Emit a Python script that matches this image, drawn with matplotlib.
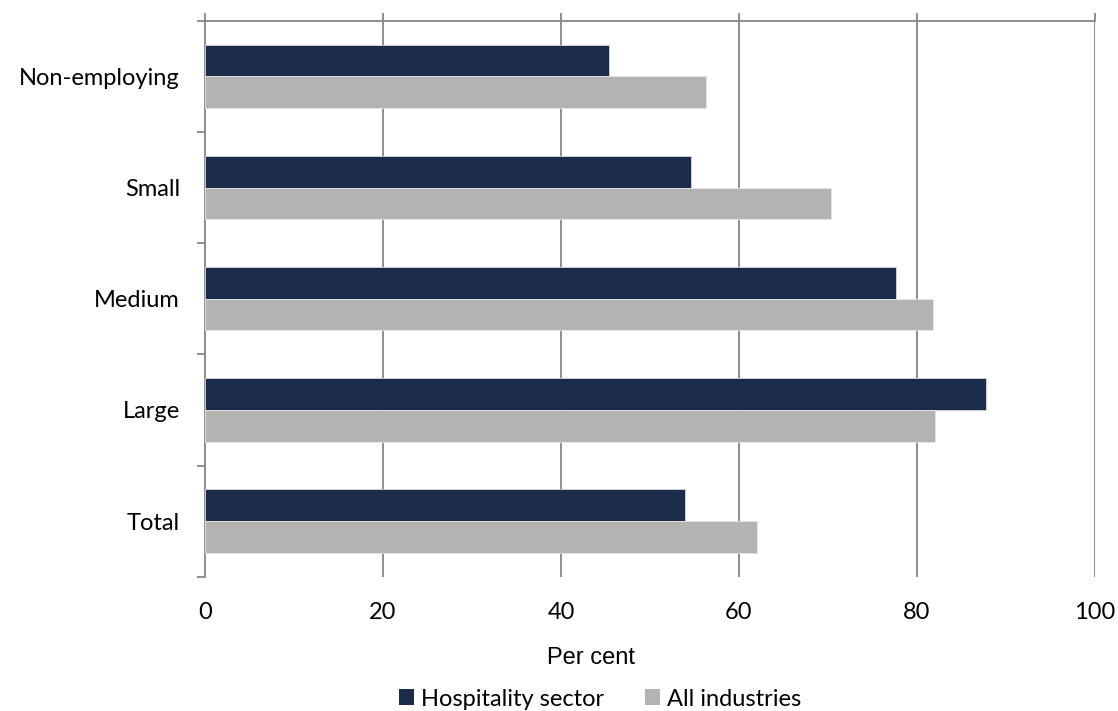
"""Business size comparison: hospitality sector vs all industries (horizontal grouped bars)."""
import numpy as np
import matplotlib
matplotlib.use("Agg")
import matplotlib.pyplot as plt
from matplotlib.patches import Patch
from matplotlib.ticker import FixedLocator

# ---- data ----
CATEGORIES = ["Non-employing", "Small", "Medium", "Large", "Total"]
HOSPITALITY = [45.4, 54.6, 77.6, 87.7, 53.9]
ALL_INDUSTRIES = [56.3, 70.3, 81.8, 82.0, 62.0]
SERIES_NAMES = ["Hospitality sector", "All industries"]
X_TICKS = [0, 20, 40, 60, 80, 100]

NAVY = "#1B2C4B"
GREY = "#B3B3B1"
GRID = "#868686"

W, H = 1118, 711
FS = 17
LABEL_FONT = ["Lato", "DejaVu Sans"]
AXIS_FONT = ["Liberation Sans", "DejaVu Sans"]


def main():
    fig = plt.figure(figsize=(W / 100, H / 100), dpi=100)
    ax = fig.add_axes([205 / W, 1 - 576.7 / H, (1095 - 205) / W, (576.7 - 20.7) / H])

    y = np.arange(len(CATEGORIES))
    bar_h = 0.285
    ax.barh(y - bar_h / 2, HOSPITALITY, height=bar_h, color=NAVY,
            edgecolor="#D9D9D9", linewidth=0.6, zorder=3)
    ax.barh(y + bar_h / 2, ALL_INDUSTRIES, height=bar_h, color=GREY,
            edgecolor="#E6E6E6", linewidth=0.6, zorder=3)

    ax.set_xlim(0, 100)
    ax.set_ylim(len(CATEGORIES) - 0.5, -0.5)

    # vertical gridlines, the one at 100 doubles as the right edge
    for xv in X_TICKS[1:]:
        ax.axvline(xv, color=GRID, linewidth=1.3, zorder=1)

    for side in ("right", "bottom"):
        ax.spines[side].set_visible(False)
    for side in ("left", "top"):
        ax.spines[side].set_color(GRID)
        ax.spines[side].set_linewidth(1.3)

    # x axis: tick marks along the top, labels underneath
    ax.set_xticks(X_TICKS)
    ax.set_xticklabels([str(v) for v in X_TICKS], fontsize=FS, family=LABEL_FONT)
    ax.tick_params(axis="x", which="major", top=True, bottom=False,
                   labeltop=False, labelbottom=True, direction="out",
                   length=6, width=1.3, color=GRID, pad=12)

    # y axis: labels at category centres, tick marks at the boundaries
    ax.set_yticks(y)
    ax.set_yticklabels(CATEGORIES, fontsize=FS, family=LABEL_FONT)
    ax.tick_params(axis="y", which="major", length=0, pad=18)
    ax.yaxis.set_minor_locator(FixedLocator(np.arange(-0.5, len(CATEGORIES), 1.0)))
    ax.tick_params(axis="y", which="minor", left=True, direction="out",
                   length=6, width=1.3, color=GRID)

    fig.text(591 / W, 1 - 658 / H, "Per cent", ha="center", va="center",
             fontsize=FS, family=AXIS_FONT)

    handles = [Patch(facecolor=NAVY, edgecolor="none", label=SERIES_NAMES[0]),
               Patch(facecolor=GREY, edgecolor="none", label=SERIES_NAMES[1])]
    fig.legend(handles=handles, loc="center", bbox_to_anchor=(600 / W, 1 - 699 / H),
               ncol=2, frameon=False, prop={"family": LABEL_FONT, "size": FS},
               handlelength=0.64, handleheight=0.64, handletextpad=0.28,
               columnspacing=1.75, borderpad=0, borderaxespad=0)

    fig.savefig("out.png", dpi=100)
    plt.close(fig)


if __name__ == "__main__":
    main()
